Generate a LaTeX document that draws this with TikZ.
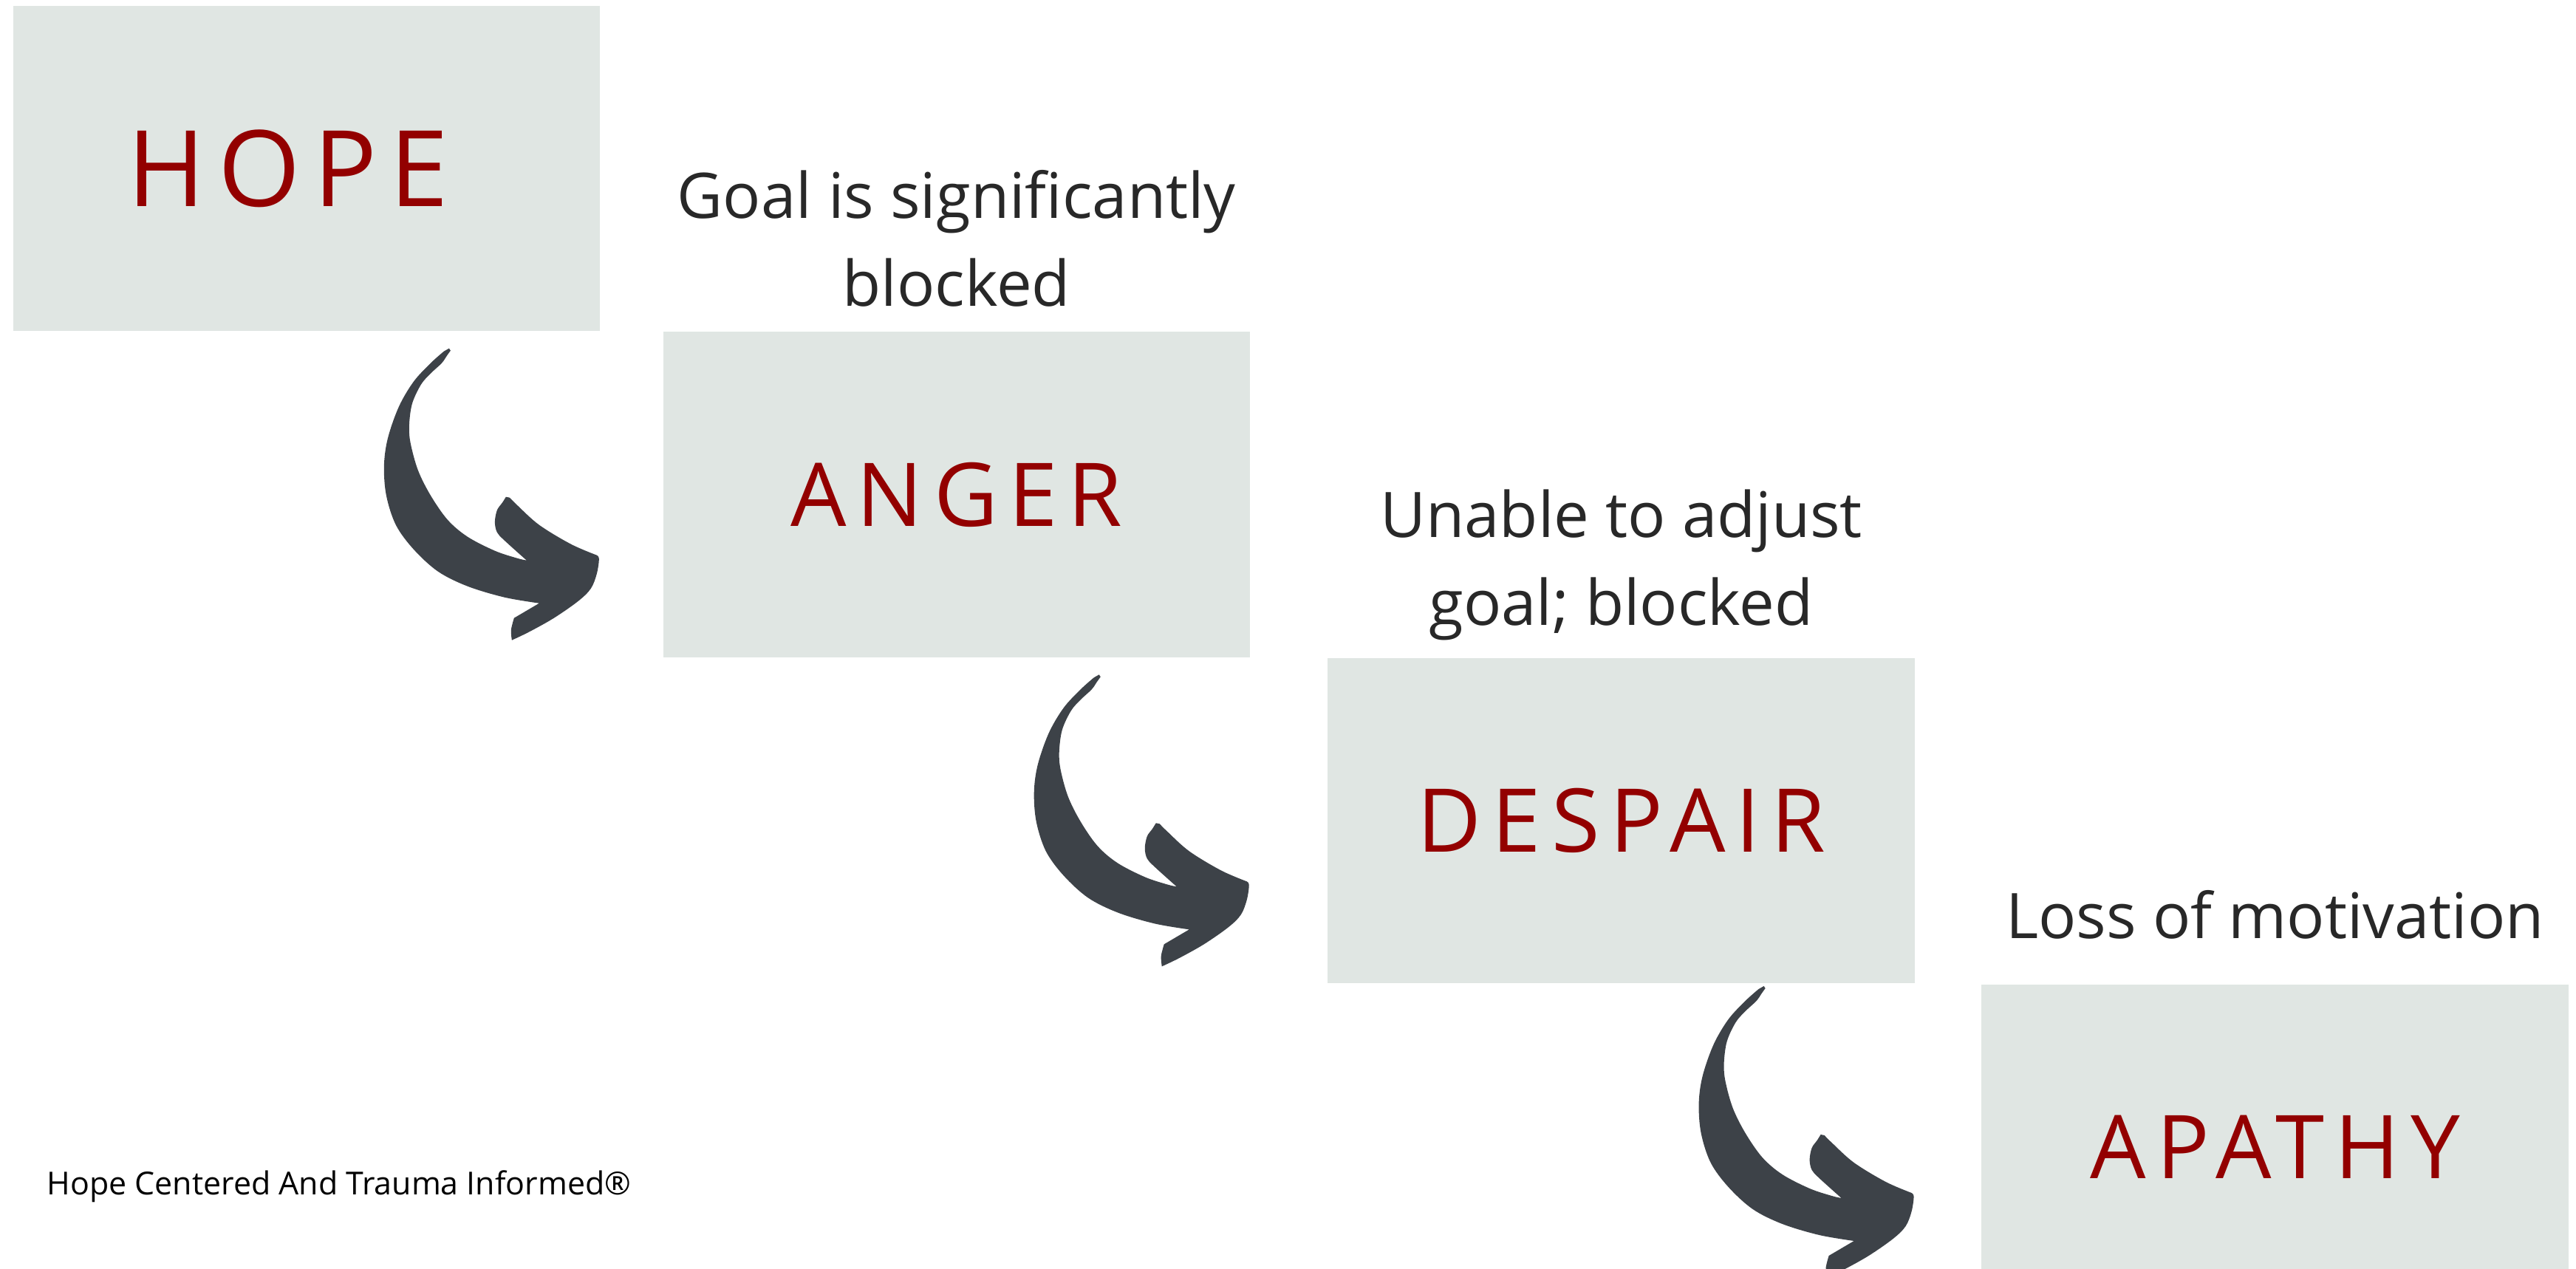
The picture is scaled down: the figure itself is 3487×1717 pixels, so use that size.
\documentclass[tikz,border=0pt]{standalone}
\usepackage{fontspec}
\setmainfont{Open Sans}
\newfontfamily\stagefont[LetterSpace=12]{Open Sans}
\usetikzlibrary{positioning}

\definecolor{boxgray}{HTML}{E0E6E3}
\definecolor{stagered}{HTML}{930000}
\definecolor{arrowgray}{HTML}{3D4248}
\definecolor{captiongray}{HTML}{282828}

\begin{document}
\begin{tikzpicture}[
    x=0.01cm, y=-0.01cm,
    stage/.style={fill=boxgray, text=stagered, inner sep=0pt, anchor=north west,
        minimum width=7.94cm, minimum height=4.4cm,
        font=\stagefont\fontsize{33.9}{33.9}\selectfont},
    caption/.style={text=captiongray, align=center, inner sep=0pt, anchor=base,
        font=\fontsize{24.2}{33.9}\selectfont},
    footer/.style={text=black, inner sep=0pt, anchor=base west,
        font=\fontsize{12.2}{14}\selectfont},
    pics/bendarrow/.style={code={
        \fill[arrowgray]
            plot[smooth, tension=0.55] coordinates {(-212,27) (-230,43) (-253,68) (-273,102) (-288,145) (-293,182) (-290,222) (-277,262) (-253,295) (-220,325) (-180,345) (-130,360) (-83,368)}
            -- (-117,388)
            -- plot[smooth, tension=0.55] coordinates {(-117,388) (-121,404) (-120,418)}
            -- plot[smooth, tension=0.55] coordinates {(-120,418) (-97,407) (-63,388) (-30,365) (-13,348) (-5,328) (-2,308) (-5,303)}
            -- plot[smooth, tension=0.55] coordinates {(-5,303) (-40,288) (-83,262) (-113,235) (-123,225)}
            -- (-128,224)
            -- plot[smooth, tension=0.55] coordinates {(-128,224) (-133,232) (-140,242) (-143,258) (-140,272) (-130,283) (-100,310)}
            -- plot[smooth, tension=0.55] coordinates {(-100,310) (-113,307) (-143,297) (-180,278) (-207,255) (-230,222) (-247,188) (-257,152) (-259,128) (-255,98) (-243,72) (-230,57) (-215,43) (-208,33) (-203,26)}
            -- (-205,23) -- cycle;
    }}
]
\fill[white] (0,0) rectangle (3487,1717);
\useasboundingbox (0,0) rectangle (3487,1717);
\clip (0,0) rectangle (3487,1717);

% stages
\node[stage, font=\stagefont\fontsize{40.7}{40.7}\selectfont] (hope) at (17,7) {\kern-5mm HOPE};
\node[stage] (anger) at ([shift={(84,0)}]hope.south east) {ANGER};
\node[stage] (despair) at ([shift={(104,0)}]anger.south east) {DESPAIR};
\node[stage] (apathy) at ([shift={(89,0)}]despair.south east) {APATHY};

% captions above the stages
\node[caption] (angercap) at ([shift={(0,-34)}]anger.north) {Goal is significantly\\blocked};
\node[caption] (despaircap) at ([shift={(0,-44)}]despair.north) {Unable to adjust\\goal; blocked};
\node[caption] (apathycap) at ([shift={(0,-62)}]apathy.north) {Loss of motivation};

% arrows between stages
\pic at (hope.south east) {bendarrow};
\pic at (anger.south east) {bendarrow};
\pic at ([shift={(0,-20)}]despair.south east) {bendarrow};

\node[footer] (mark) at (63,1617) {Hope Centered And Trauma Informed®};
\end{tikzpicture}
\end{document}
